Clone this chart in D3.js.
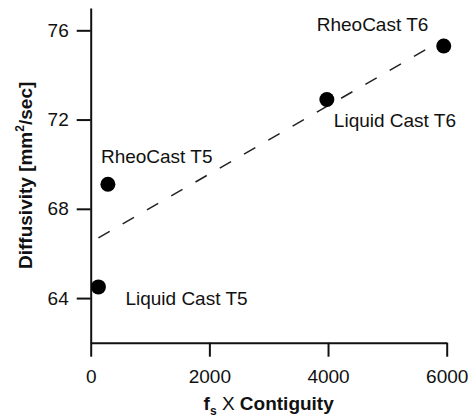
<!DOCTYPE html>
<html><head><meta charset="utf-8">
<script src="https://cdn.jsdelivr.net/npm/d3@7"></script>
<style>
html,body{margin:0;padding:0;background:#fff;}
svg{display:block;font-family:Arial,"Liberation Sans",sans-serif;}
</style></head>
<body><svg id="c" width="473" height="419"></svg>
<script>
const names = ["Liquid Cast T5","RheoCast T5","Liquid Cast T6","RheoCast T6"];
const xVals = [130, 290, 3980, 5950];
const yVals = [64.5, 69.1, 72.9, 75.3];
const fitX = [130, 5950];
const fitY = [66.7, 75.6];
const xMajor = [0, 2000, 4000, 6000];
const xMinor = [1000, 3000, 5000];
const yMajor = [64, 68, 72, 76];
const yMinor = [62, 66, 70, 74];

const svg = d3.select("#c");
const x = d3.scaleLinear().domain([0, 6000]).range([90.7, 446.7]);
const y = d3.scaleLinear().domain([62, 77]).range([342.7, 8]);
const ink = "#111";

// axes
const gx = svg.append("g").attr("transform", `translate(0,${y(62)})`);
gx.call(d3.axisBottom(x).tickValues(xMinor).tickSize(9).tickSizeOuter(0).tickFormat(""));
gx.call(d3.axisBottom(x).tickValues(xMajor).tickSize(14).tickSizeOuter(0).tickPadding(13).tickFormat(d3.format("d")));
const gy = svg.append("g").attr("transform", `translate(${x(0)},0)`);
gy.call(d3.axisLeft(y).tickValues(yMinor).tickSize(9).tickSizeOuter(0).tickFormat(""));
gy.call(d3.axisLeft(y).tickValues(yMajor).tickSize(14).tickSizeOuter(0).tickPadding(8).tickFormat(d3.format("d")));
svg.selectAll(".domain").attr("stroke", ink).attr("stroke-width", 2);
svg.selectAll(".tick line").attr("stroke", ink).attr("stroke-width", 2);
svg.selectAll(".tick text").attr("font-size", 19).attr("fill", ink).attr("font-family", "Arial, 'Liberation Sans', sans-serif");

// fit line
svg.append("line")
  .attr("x1", x(fitX[0])).attr("y1", y(fitY[0]))
  .attr("x2", x(fitX[1])).attr("y2", y(fitY[1]))
  .attr("stroke", "#222").attr("stroke-width", 1.5).attr("stroke-dasharray", "13,15");

// points
const pts = names.map((n, i) => ({ n, x: xVals[i], y: yVals[i] }));
svg.selectAll("circle.p").data(pts).join("circle")
  .attr("class", "p").attr("cx", d => x(d.x)).attr("cy", d => y(d.y)).attr("r", 7.5).attr("fill", "#000");

const offs = [[27, 18], [-7, -21], [7, 28], [-127, -15]];
svg.selectAll("text.lbl").data(pts).join("text")
  .attr("class", "lbl")
  .attr("x", (d, i) => x(d.x) + offs[i][0])
  .attr("y", (d, i) => y(d.y) + offs[i][1])
  .attr("font-size", 19).attr("fill", ink).text(d => d.n);

// axis titles
const xt = svg.append("text").attr("x", x(3000)).attr("y", 410).attr("text-anchor", "middle")
  .attr("font-size", 19).attr("font-weight", "bold").attr("fill", ink);
xt.append("tspan").text("f");
xt.append("tspan").attr("font-size", 12).attr("dy", 5).text("s");
xt.append("tspan").attr("dy", -5).attr("font-weight", "normal").text(" X ");
xt.append("tspan").text("Contiguity");

const yt = svg.append("text").attr("transform", `translate(32,${y(69.5)}) rotate(-90)`)
  .attr("text-anchor", "middle").attr("font-size", 19).attr("font-weight", "bold").attr("fill", ink);
yt.append("tspan").text("Diffusivity [mm");
yt.append("tspan").attr("font-size", 12).attr("dy", -8).text("2");
yt.append("tspan").attr("dy", 8).text("/sec]");
</script></body></html>
